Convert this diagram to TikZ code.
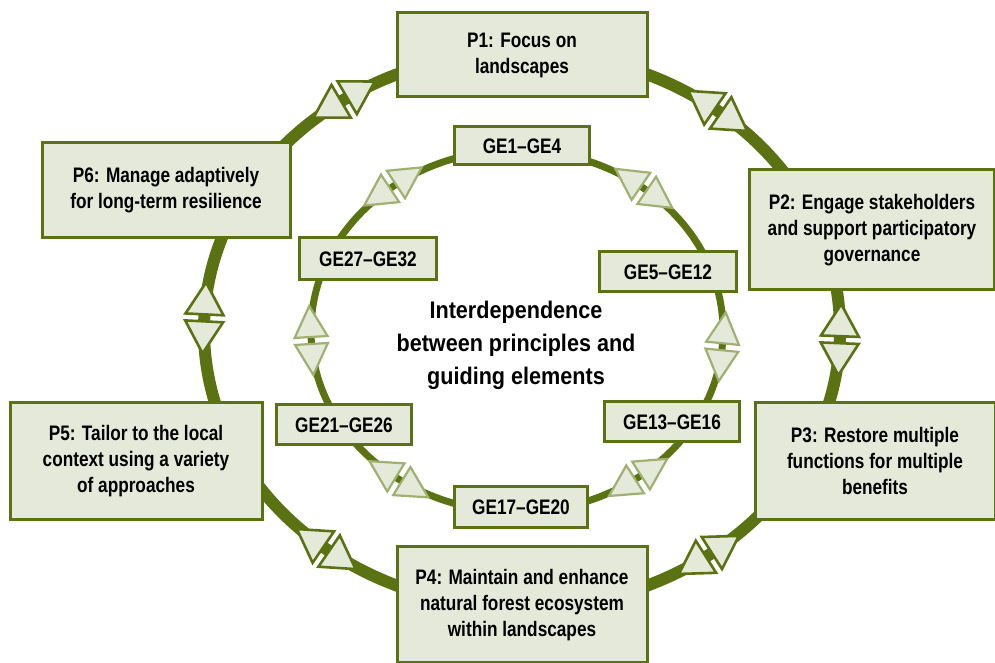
\documentclass[tikz,border=0pt]{standalone}
\usepackage{fontspec}
\newfontfamily\boxfont{Liberation Sans}[FakeStretch=0.82]
\newfontfamily\midfont{Liberation Sans}[FakeStretch=0.9]
\definecolor{ringc}{RGB}{90,114,18}
\definecolor{boxc}{RGB}{228,233,218}
\definecolor{trilite}{RGB}{160,176,112}
\tikzset{
  pbox/.style={draw=ringc, line width=3pt, fill=boxc, align=center, inner sep=0pt,
    font=\boxfont\bfseries\fontsize{21}{26}\selectfont},
  gebox/.style={pbox},
  outtri/.style={draw=ringc, line width=2.6pt, fill=boxc},
  intri/.style={draw=trilite, line width=2.2pt, fill=boxc},
}
% #1 cx, #2 cy, #3 rx, #4 ry, #5 t, #6 style, #7 width, #8 height
\newcommand\dblarr[8]{%
  \pgfmathsetmacro\dang{atan2(#4*cos(#5), -#3*sin(#5))}%
  \begin{scope}[shift={({#1+#3*cos(#5)},{#2+#4*sin(#5)})}, rotate=\dang]
    \filldraw[#6] (3.5,{-#7/2}) -- ({3.5+#8},0) -- (3.5,{#7/2}) -- cycle;
    \filldraw[#6] (-3.5,{-#7/2}) -- ({-3.5-#8},0) -- (-3.5,{#7/2}) -- cycle;
  \end{scope}}
\begin{document}
\begin{tikzpicture}[x=1pt,y=1pt]
\useasboundingbox (0,0) rectangle (995,663);
% rings
\coordinate (oc) at (522,333);
\coordinate (ic) at (517,332);
\draw[ringc, line width=12pt] (oc) ellipse [x radius=318, y radius=278];
\draw[ringc, line width=7pt] (ic) ellipse [x radius=206, y radius=181];
% outer arrows
\foreach \t in {124,52,-2,-54,232,177.5}{\dblarr{522}{333}{318}{278}{\t}{outtri}{38}{32}}
% inner arrows
\foreach \t in {127,52,-5,-54,235,183}{\dblarr{517}{332}{206}{181}{\t}{intri}{33}{31}}
% principle boxes
\node[pbox, minimum width=250, minimum height=84] (p1) at (522,608) {P1: Focus on\\landscapes};
\node[pbox, minimum width=245, minimum height=120] (p2) at (872,433) {P2: Engage stakeholders\\and support participatory\\governance};
\node[pbox, minimum width=240, minimum height=117] (p3) at (875,202) {P3: Restore multiple\\functions for multiple\\benefits};
\node[pbox, minimum width=250, minimum height=116] (p4) at (522,58) {P4: Maintain and enhance\\natural forest ecosystem\\within landscapes};
\node[pbox, minimum width=252, minimum height=117] (p5) at (136,202) {P5: Tailor to the local\\context using a variety\\of approaches};
\node[pbox, minimum width=248, minimum height=95] (p6) at (166,473) {P6: Manage adaptively\\for long-term resilience};
% guiding element boxes
\node[gebox, minimum width=135, minimum height=38] (g1) at (522,517) {GE1–GE4};
\node[gebox, minimum width=137, minimum height=40] (g2) at (668,391) {GE5–GE12};
\node[gebox, minimum width=135, minimum height=40] (g3) at (672,241) {GE13–GE16};
\node[gebox, minimum width=133, minimum height=41] (g4) at (521,156) {GE17–GE20};
\node[gebox, minimum width=135, minimum height=40] (g5) at (344,238) {GE21–GE26};
\node[gebox, minimum width=137, minimum height=42] (g6) at (368,404) {GE27–GE32};
% centre text
\node[align=center, font=\midfont\bfseries\fontsize{24}{33}\selectfont] (ctr) at (516,318)
  {Interdependence\\between principles and\\guiding elements};
\end{tikzpicture}
\end{document}
